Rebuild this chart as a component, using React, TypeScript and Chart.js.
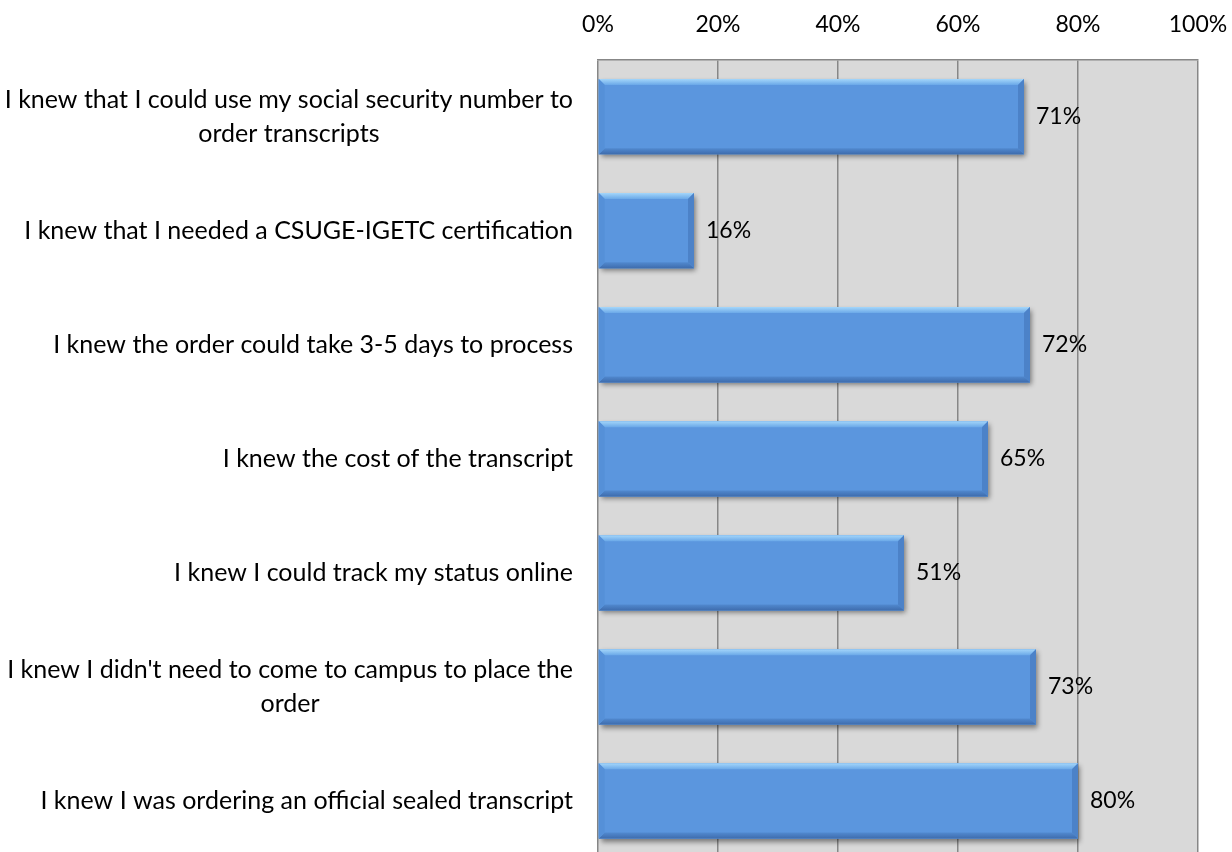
import React, { useEffect, useRef } from "react";
import { Chart, registerables } from "chart.js";

Chart.register(...registerables);

const categories: string[][] = [
  ["I knew that I could use my social security number to", "order transcripts"],
  ["I knew that I needed a CSUGE-IGETC certification"],
  ["I knew the order could take 3-5 days to process"],
  ["I knew the cost of the transcript"],
  ["I knew I could track my status online"],
  ["I knew I didn't need to come to campus to place the", "order"],
  ["I knew I was ordering an official sealed transcript"],
];
const values: number[] = [71, 16, 72, 65, 51, 73, 80];
const tickValues: number[] = [0, 20, 40, 60, 80, 100];

const FONT_FAMILY = "Lato, 'Open Sans', sans-serif";
const CAT_FONT_SIZE = 25;
const VAL_FONT_SIZE = 23;
const LABEL_RIGHT = 573;
const LINE_H = 34;

const bgPlugin = {
  id: "plotBg",
  beforeDraw(chart: any) {
    const { ctx, chartArea } = chart;
    ctx.save();
    ctx.fillStyle = "#D9D9D9";
    ctx.fillRect(chartArea.left, chartArea.top, chartArea.right - chartArea.left, chartArea.bottom - chartArea.top);
    ctx.restore();
  },
};

const shadowPlugin = {
  id: "barShadow",
  beforeDatasetsDraw(chart: any) {
    const { ctx } = chart;
    const meta = chart.getDatasetMeta(0);
    ctx.save();
    ctx.shadowColor = "rgba(0,0,0,0.45)";
    ctx.shadowBlur = 5;
    ctx.shadowOffsetX = 2;
    ctx.shadowOffsetY = 3;
    ctx.fillStyle = "#5B96DE";
    meta.data.forEach((bar: any) => {
      const p = bar.getProps(["x", "y", "base", "height"], true);
      ctx.fillRect(p.base, p.y - p.height / 2, p.x - p.base, p.height);
    });
    ctx.restore();
  },
};

const bevelPlugin = {
  id: "barBevel",
  afterDatasetsDraw(chart: any) {
    const { ctx } = chart;
    const meta = chart.getDatasetMeta(0);
    ctx.save();
    meta.data.forEach((bar: any) => {
      const p = bar.getProps(["x", "y", "base", "height"], true);
      const l = p.base, r = p.x, t = p.y - p.height / 2, b = p.y + p.height / 2;
      const bv = 6;
      const gTop = ctx.createLinearGradient(0, t, 0, t + bv);
      gTop.addColorStop(0, "#A4D6FA");
      gTop.addColorStop(1, "#6AA8E8");
      ctx.fillStyle = gTop;
      ctx.beginPath();
      ctx.moveTo(l, t); ctx.lineTo(r, t); ctx.lineTo(r - bv, t + bv); ctx.lineTo(l + bv, t + bv); ctx.closePath();
      ctx.fill();
      ctx.fillStyle = "#4C82C8";
      ctx.beginPath();
      ctx.moveTo(r, t); ctx.lineTo(r, b); ctx.lineTo(r - bv, b - bv); ctx.lineTo(r - bv, t + bv); ctx.closePath();
      ctx.fill();
      const gBot = ctx.createLinearGradient(0, b - bv, 0, b);
      gBot.addColorStop(0, "#5189CF");
      gBot.addColorStop(1, "#3E6CAD");
      ctx.fillStyle = gBot;
      ctx.beginPath();
      ctx.moveTo(l, b); ctx.lineTo(r, b); ctx.lineTo(r - bv, b - bv); ctx.lineTo(l + bv, b - bv); ctx.closePath();
      ctx.fill();
      ctx.fillStyle = "#5590D8";
      ctx.beginPath();
      ctx.moveTo(l, t); ctx.lineTo(l + bv, t + bv); ctx.lineTo(l + bv, b - bv); ctx.lineTo(l, b); ctx.closePath();
      ctx.fill();
    });
    ctx.restore();
  },
};

const labelPlugin = {
  id: "labels",
  afterDraw(chart: any) {
    const { ctx } = chart;
    const yScale = chart.scales.y;
    const meta = chart.getDatasetMeta(0);
    ctx.save();
    ctx.font = `${CAT_FONT_SIZE}px ${FONT_FAMILY}`;
    ctx.fillStyle = "#000000";
    ctx.textBaseline = "middle";
    (chart.data.labels as string[][]).forEach((lines, i) => {
      const cy = yScale.getPixelForValue(i);
      const n = lines.length;
      if (n === 1) {
        ctx.textAlign = "right";
        ctx.fillText(lines[0], LABEL_RIGHT, cy);
      } else {
        const maxW = Math.max(...lines.map((s) => ctx.measureText(s).width));
        const cx = LABEL_RIGHT - maxW / 2;
        ctx.textAlign = "center";
        lines.forEach((s, k) => {
          ctx.fillText(s, cx, cy + (k - (n - 1) / 2) * LINE_H);
        });
      }
    });
    ctx.font = `${VAL_FONT_SIZE}px ${FONT_FAMILY}`;
    ctx.textAlign = "left";
    meta.data.forEach((bar: any, i: number) => {
      const p = bar.getProps(["x", "y"], true);
      ctx.fillText(`${chart.data.datasets[0].data[i]}%`, p.x + 12, p.y);
    });
    ctx.restore();
  },
};

export default function App() {
  const ref = useRef<HTMLCanvasElement | null>(null);
  useEffect(() => {
    const canvas = ref.current!;
    const chart = new Chart(canvas, {
      type: "bar",
      data: {
        labels: categories as any,
        datasets: [
          {
            data: values,
            backgroundColor: "#5B96DE",
            borderWidth: 0,
            barPercentage: 0.66,
            categoryPercentage: 1,
          },
        ],
      },
      options: {
        indexAxis: "y",
        animation: false,
        responsive: false,
        maintainAspectRatio: false,
        layout: { padding: { left: 598, right: 34, top: -10, bottom: 0 } },
        plugins: { legend: { display: false }, tooltip: { enabled: false } },
        scales: {
          x: {
            position: "top",
            min: 0,
            max: 100,
            afterBuildTicks: (axis: any) => {
              axis.ticks = tickValues.map((v) => ({ value: v }));
            },
            afterFit: (axis: any) => {
              axis.paddingLeft = 0;
              axis.paddingRight = 0;
            },
            ticks: {
              padding: 21,
              color: "#000000",
              font: { family: FONT_FAMILY, size: VAL_FONT_SIZE },
              callback: (v: any) => `${v}%`,
            },
            grid: { color: "#878787", lineWidth: 1.5, drawTicks: false },
            border: { display: true, color: "#878787", width: 1.5 },
          },
          y: {
            display: false,
          },
        },
      },
      plugins: [bgPlugin, shadowPlugin, bevelPlugin, labelPlugin],
    });
    return () => chart.destroy();
  }, []);
  return (
    <div style={{ position: "fixed", left: 0, top: 0, width: 1232, height: 852, overflow: "hidden", background: "#ffffff" }}>
      <canvas ref={ref} width={1232} height={858} style={{ display: "block", width: 1232, height: 858 }} />
    </div>
  );
}
